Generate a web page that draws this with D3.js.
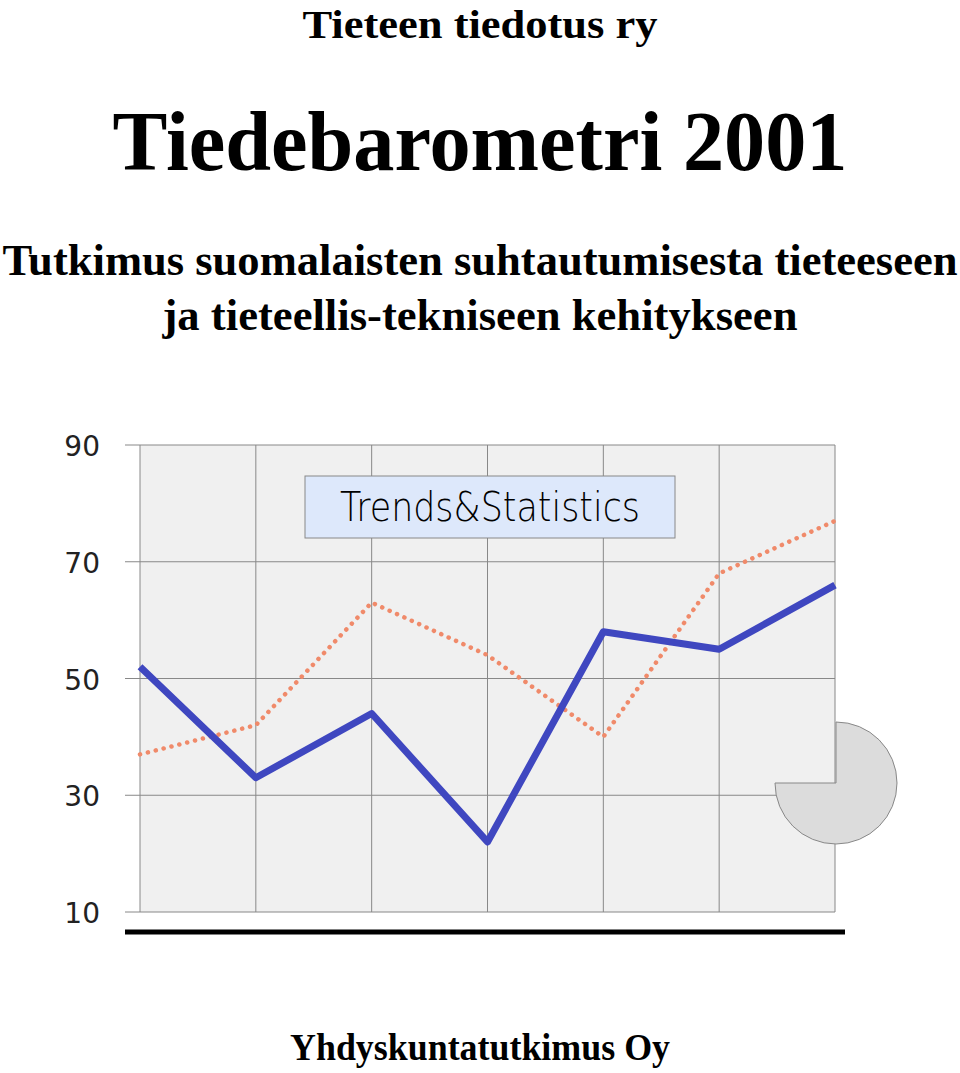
<!DOCTYPE html>
<html><head><meta charset="utf-8">
<script src="https://cdn.jsdelivr.net/npm/d3@7"></script>
<style>body{margin:0;background:#fff}</style></head>
<body><svg id="c" width="960" height="1073"></svg>
<script>
const categories=[1,2,3,4,5,6,7];
const seriesBlue=[52,33,44,22,58,55,66];
const seriesOrange=[37,42,63,54,40,68,77];
const yTicks=[10,30,50,70,90];
const svg=d3.select("#c");
const x=d3.scalePoint().domain(categories).range([140,835]);
const y=d3.scaleLinear().domain([10,90]).range([912,445]);
const serif="'Liberation Serif','Times New Roman',serif";
function t(txt,cx,cy,size,w,fam,extra){svg.append("text").attr("x",cx).attr("y",cy).attr("text-anchor","middle").attr("font-family",fam).attr("font-size",size).attr("font-weight",w).attr("textLength",extra||null).attr("lengthAdjust","spacingAndGlyphs").text(txt);}
t("Tieteen tiedotus ry",480,38,40,"bold",serif,355);
t("Tiedebarometri 2001",480,170,84,"bold",serif,735);
t("Tutkimus suomalaisten suhtautumisesta tieteeseen",480,275,44,"bold",serif,955);
t("ja tieteellis-tekniseen kehitykseen",480,330,44,"bold",serif,635);
t("Yhdyskuntatutkimus Oy",480,1060,38,"bold",serif,380);
svg.append("rect").attr("x",140).attr("y",y(90)).attr("width",695).attr("height",y(10)-y(90)).attr("fill","#f0f0f0");
svg.selectAll(".v").data(categories).enter().append("line").attr("x1",d=>x(d)).attr("x2",d=>x(d)).attr("y1",y(90)).attr("y2",y(10)).attr("stroke","#888").attr("stroke-width",1);
svg.selectAll(".h").data(yTicks).enter().append("line").attr("x1",125).attr("x2",835).attr("y1",d=>y(d)).attr("y2",d=>y(d)).attr("stroke","#888").attr("stroke-width",1);
svg.selectAll(".yl").data(yTicks).enter().append("text").attr("x",100).attr("y",d=>y(d)+11).attr("text-anchor","end").attr("font-family","'DejaVu Sans',sans-serif").attr("font-size",28).attr("fill","#222").text(d=>d);
svg.append("line").attr("x1",125).attr("x2",845).attr("y1",932).attr("y2",932).attr("stroke","#000").attr("stroke-width",5);
const arc=d3.arc().innerRadius(0).outerRadius(61).startAngle(0).endAngle(1.5*Math.PI);
svg.append("path").attr("d",arc()).attr("transform","translate(836,783)").attr("fill","#dcdcdc").attr("stroke","#888").attr("stroke-width",1);
svg.append("rect").attr("x",305).attr("y",476).attr("width",370).attr("height",62).attr("fill","#dde8fb").attr("stroke","#888");
svg.append("text").attr("x",490).attr("y",521).attr("text-anchor","middle").attr("font-family","'DejaVu Sans',sans-serif").attr("font-weight",300).attr("font-size",40).attr("textLength",300).attr("lengthAdjust","spacingAndGlyphs").text("Trends&Statistics");
const line=d3.line().x((d,i)=>x(categories[i])).y(d=>y(d));
svg.append("path").attr("d",line(seriesOrange)).attr("fill","none").attr("stroke","#f08a6a").attr("stroke-width",4.5).attr("stroke-dasharray","0.1,8").attr("stroke-linecap","round");
svg.append("path").attr("d",line(seriesBlue)).attr("fill","none").attr("stroke","#3f47c0").attr("stroke-width",7).attr("stroke-linejoin","round");
</script></body></html>
